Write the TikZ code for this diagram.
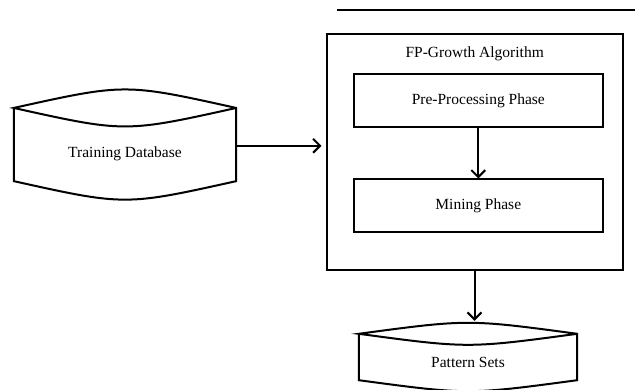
\documentclass[tikz,border=0pt]{standalone}
\usepackage{fontspec}
\setmainfont{Liberation Serif}
\usetikzlibrary{positioning,arrows.meta}
% drum outline round a node: #1 node, #2 sag of the arcs (pt)
\newcommand{\dbshape}[2]{%
  \draw[pen] ([yshift=#2pt]#1.north west) -- (#1.south west)
    .. controls ([yshift={-1.333*#2pt}]#1.south) .. (#1.south east)
    -- ([yshift=#2pt]#1.north east)
    .. controls ([yshift={2.333*#2pt}]#1.north) .. ([yshift=#2pt]#1.north west)
    .. controls ([yshift={-0.333*#2pt}]#1.north) .. ([yshift=#2pt]#1.north east);}

\begin{document}
\begin{tikzpicture}[
  x=1pt, y=-1pt,
  pen/.style  ={line width=2pt},
  txt/.style  ={font=\fontsize{15.5}{18}\selectfont},
  stage/.style={draw, pen, txt, minimum width=249pt, minimum height=53pt,
                inner sep=0pt},
  drum/.style ={txt, inner sep=0pt},
  arr/.style  ={pen, -{Straight Barb[length=7pt,width=14pt]}}
]
\useasboundingbox (0,0) rectangle (635,390);
\coordinate (rulea) at (337,10);
\coordinate (ruleb) at (635,10);
\draw[pen] (rulea) -- (ruleb);

\node[draw, pen, minimum width=296pt, minimum height=236pt] (fpg) at (474.5,152.3) {};
\node[txt] (fpgtitle) at (474.7,54) {FP-Growth Algorithm};
\node[stage] (pre) at (478.3,101) {Pre-Processing Phase};
\node[stage, below=50pt of pre] (mine) {Mining Phase};

\node[drum, minimum width=222pt, minimum height=54.3pt] (tdb) at (125,153.8) {Training Database};
\node[drum, minimum width=218pt, minimum height=35pt] (pset) at (468,362.5) {Pattern Sets};
\dbshape{tdb}{18.5}
\dbshape{pset}{11}

\coordinate (tdbout) at ([yshift=8pt]tdb.east);
\coordinate (psettop) at ([yshift=22pt]pset.north);
\draw[arr, shorten >=4pt] (tdbout) -- (tdbout -| fpg.west);
\draw[arr] (pre) -- (mine);
\draw[arr, shorten >=2pt] (fpg.south) -- (fpg.south |- psettop);
\end{tikzpicture}
\end{document}
